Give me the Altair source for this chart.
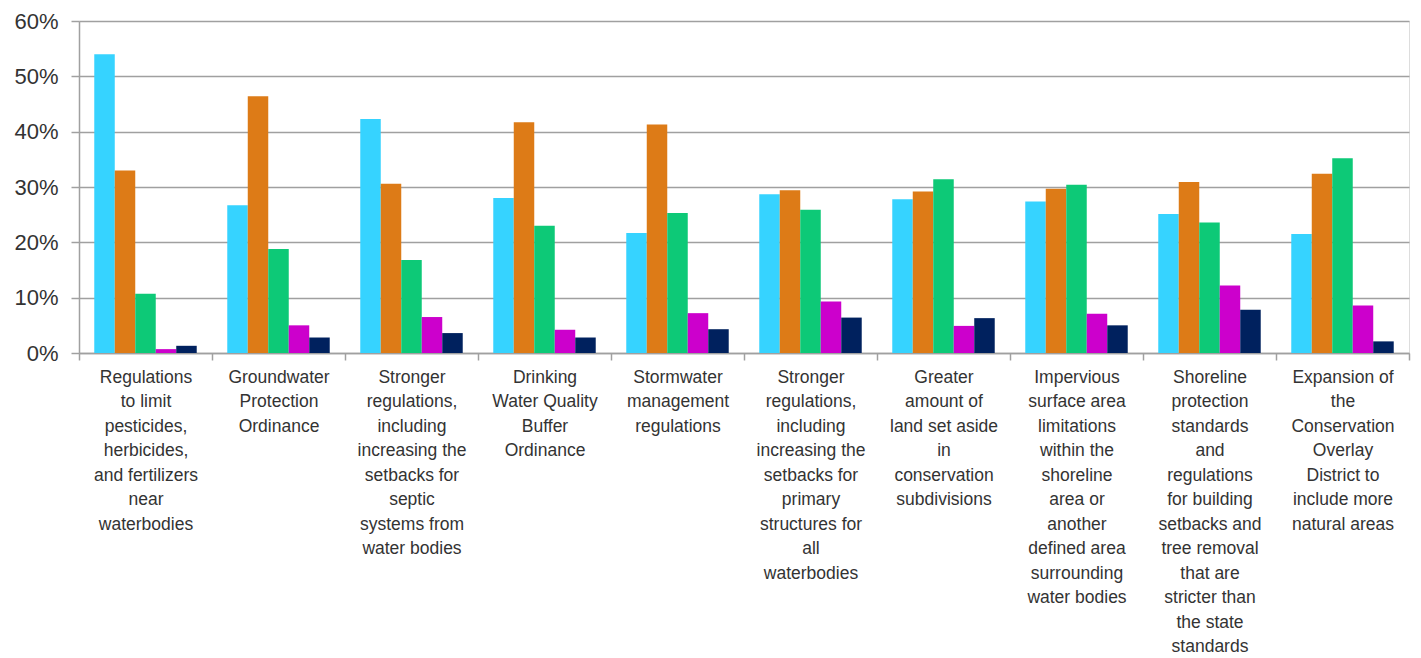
import altair as alt
import pandas as pd

categories = [
    "Regulations|to limit|pesticides,|herbicides,|and fertilizers|near|waterbodies",
    "Groundwater|Protection|Ordinance",
    "Stronger|regulations,|including|increasing the|setbacks for|septic|systems from|water bodies",
    "Drinking|Water Quality|Buffer|Ordinance",
    "Stormwater|management|regulations",
    "Stronger|regulations,|including|increasing the|setbacks for|primary|structures for|all|waterbodies",
    "Greater|amount of|land set aside|in|conservation|subdivisions",
    "Impervious|surface area|limitations|within the|shoreline|area or|another|defined area|surrounding|water bodies",
    "Shoreline|protection|standards|and|regulations|for building|setbacks and|tree removal|that are|stricter than|the state|standards",
    "Expansion of|the|Conservation|Overlay|District to|include more|natural areas",
]

series_names = ["Series 1", "Series 2", "Series 3", "Series 4", "Series 5"]
series_colors = ["#36D3FF", "#DD7B17", "#0DC977", "#CC00CC", "#00215E"]

s1 = [0.540, 0.267, 0.423, 0.280, 0.217, 0.287, 0.278, 0.274, 0.251, 0.215]
s2 = [0.330, 0.464, 0.306, 0.417, 0.413, 0.294, 0.292, 0.297, 0.309, 0.324]
s3 = [0.107, 0.188, 0.168, 0.230, 0.253, 0.259, 0.314, 0.304, 0.236, 0.352]
s4 = [0.007, 0.050, 0.065, 0.042, 0.072, 0.093, 0.049, 0.071, 0.122, 0.086]
s5 = [0.013, 0.028, 0.036, 0.028, 0.043, 0.064, 0.063, 0.050, 0.078, 0.021]

rows = []
for name, vals in zip(series_names, [s1, s2, s3, s4, s5]):
    for c, v in zip(categories, vals):
        rows.append({"category": c, "series": name, "value": v})
df = pd.DataFrame(rows)

gray = "#A0A0A0"
chart = (
    alt.Chart(df)
    .mark_bar()
    .encode(
        x=alt.X(
            "category:N",
            sort=categories,
            scale=alt.Scale(paddingInner=0, paddingOuter=0),
            axis=alt.Axis(
                title=None,
                labelAngle=0,
                labelExpr="split(datum.label, '|')",
                labelFont="Liberation Sans, Arial",
                labelFontSize=17.5,
                labelLineHeight=24.5,
                labelColor="#333333",
                labelPadding=8,
                labelLimit=0,
                tickBand="extent",
                tickSize=7,
                tickColor=gray,
                tickWidth=1.5,
                domainColor=gray,
                domainWidth=1.5,
            ),
        ),
        xOffset=alt.XOffset(
            "series:N",
            sort=series_names,
            scale=alt.Scale(paddingInner=0, paddingOuter=0.745),
        ),
        y=alt.Y(
            "value:Q",
            scale=alt.Scale(domain=[0, 0.6], nice=False),
            axis=alt.Axis(
                title=None,
                format="%",
                values=[0, 0.1, 0.2, 0.3, 0.4, 0.5, 0.6],
                labelFont="Liberation Sans, Arial",
                labelFontSize=22,
                labelColor="#333333",
                labelPadding=13,
                tickSize=8,
                tickColor=gray,
                tickWidth=1.5,
                domainColor=gray,
                domainWidth=1.5,
                grid=True,
                gridColor=gray,
                gridWidth=1.5,
            ),
        ),
        color=alt.Color(
            "series:N",
            sort=series_names,
            scale=alt.Scale(domain=series_names, range=series_colors),
            legend=None,
        ),
    )
    .properties(
        width=1330,
        height=332,
        autosize=alt.AutoSizeParams(type="none"),
        padding={"left": 79, "top": 21, "right": 12, "bottom": 305},
    )
    .configure_view(stroke=None)
    .configure(background="white")
)

chart.save("out.html", embed_options={"renderer": "svg", "actions": False})
